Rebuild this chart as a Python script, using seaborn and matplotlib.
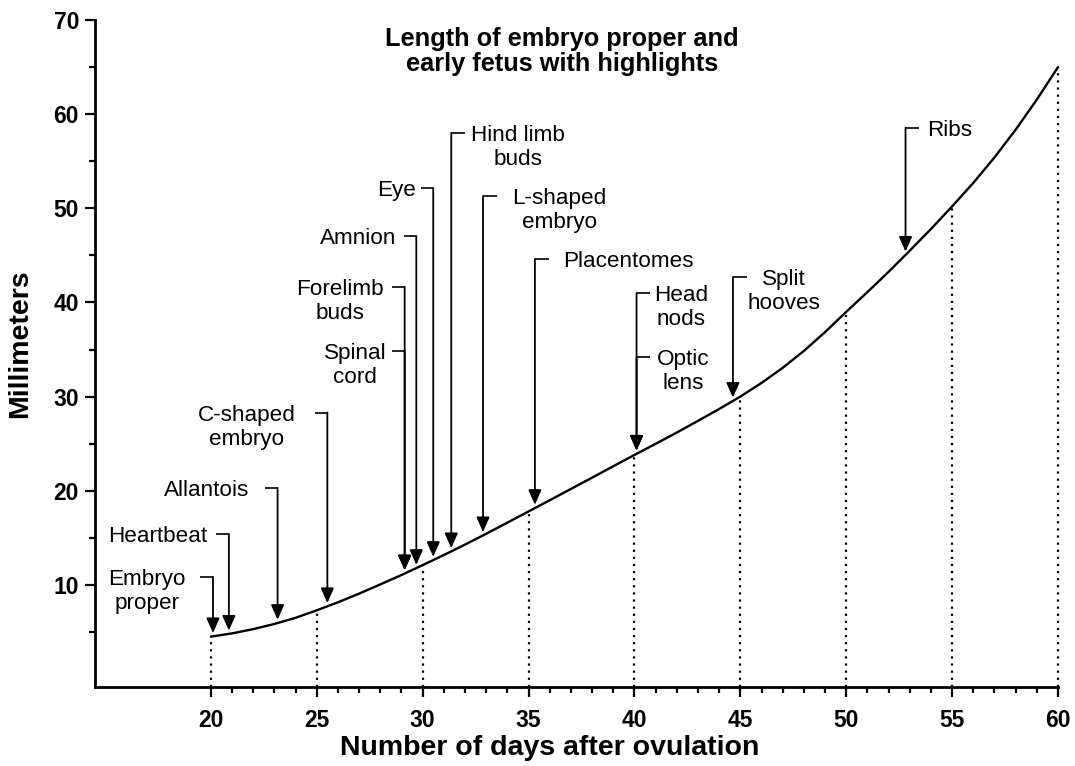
import numpy as np
import pandas as pd
import seaborn as sns
import matplotlib.pyplot as plt

# Length of the embryo / early fetus
days = list(range(20, 61))
length_mm = [4.5, 4.85, 5.3, 5.85, 6.5, 7.3, 8.15, 9.07, 10.05, 11.05,
             12.1, 13.17, 14.28, 15.43, 16.61, 17.8, 18.99, 20.19, 21.39, 22.6,
             23.8, 24.98, 26.18, 27.42, 28.68, 30.0, 31.45, 33.05, 34.85, 36.85,
             39.0, 41.1, 43.25, 45.5, 47.8, 50.2, 52.7, 55.4, 58.35, 61.55, 65.0]

# Highlights and the day each arrow points at
events = ['Embryo\nproper', 'Heartbeat', 'Allantois', 'C-shaped\nembryo', 'Forelimb\nbuds',
          'Spinal\ncord', 'Amnion', 'Eye', 'Hind limb\nbuds', 'L-shaped\nembryo',
          'Placentomes', 'Head\nnods', 'Optic\nlens', 'Split\nhooves', 'Ribs']
event_days = [20.1, 20.85, 23.15, 25.5, 29.15, 29.15, 29.7, 30.5, 31.35, 32.85,
              35.3, 40.1, 40.1, 44.65, 52.8]

# Where the labels sit: text centre (days), leader height (mm), side of the leader
label_x = [17.0, 17.5, 19.8, 21.7, 26.1, 26.8, 26.95, 28.75, 34.5, 36.45, 39.7, 42.2, 42.3, 47.05, 54.9]
label_y = [10.85, 15.4, 20.3, 28.3, 41.65, 34.85, 47.05, 52.15, 58.0, 51.3, 44.6, 41.0, 34.2, 42.7, 58.55]
side = ['L'] * 8 + ['R'] * 7

sns.set_style('ticks')
plt.rcParams['font.family'] = ['Liberation Sans', 'DejaVu Sans']
plt.rcParams['text.color'] = 'black'
plt.rcParams['axes.labelcolor'] = 'black'
plt.rcParams['xtick.color'] = 'black'
plt.rcParams['ytick.color'] = 'black'

df = pd.DataFrame({'day': days, 'mm': length_mm})

fig = plt.figure(figsize=(10.75, 7.66), dpi=100)
ax = fig.add_axes([0.0884, 0.1031, 0.8958, 0.8708])
ybot = -0.85

sns.lineplot(data=df, x='day', y='mm', ax=ax, color='black', lw=1.7, clip_on=False)

# Dotted drop lines every 5 days
five = df[df['day'] % 5 == 0]
ax.vlines(five['day'], ybot, five['mm'], colors='black', lw=1.6,
          linestyles=[(0, (1, 2.2))], clip_on=False)

# Highlight leaders with arrows
fs = 16.2
for name, d, lx, ly, s in zip(events, event_days, label_x, label_y, side):
    tip = np.interp(d, days, length_mm) + 0.35
    stub = [d - 0.6, d] if s == 'L' else [d, d + 0.65]
    ax.plot(stub, [ly, ly], color='black', lw=1.2, solid_capstyle='butt')
    ax.annotate('', xy=(d, tip), xytext=(d, ly),
                arrowprops=dict(arrowstyle='-|>,head_length=0.45,head_width=0.2', mutation_scale=20,
                                lw=1.3, color='black', shrinkA=0, shrinkB=0))
    ax.annotate(name, xy=(lx, ly), xytext=(0, 0.358 * fs), textcoords='offset points',
                ha='center', va='top', multialignment='center', fontsize=fs, linespacing=1.2)

fig.text(0.5228, 1 - 27 / 766, 'Length of embryo proper and\nearly fetus with highlights',
         ha='center', va='top', fontsize=18.3, fontweight='bold', linespacing=1.05)

ax.set_xlim(14.53, 60)
ax.set_ylim(ybot, 70)
ax.set_xticks(range(20, 61, 5))
ax.set_xticks(range(20, 61), minor=True)
ax.set_yticks(range(10, 71, 10))
ax.set_yticks(range(5, 70, 10), minor=True)
ax.tick_params(which='major', length=7.5, width=1.6, colors='black')
ax.tick_params(which='minor', length=4, width=1.6, colors='black')
ax.tick_params(axis='x', which='major', pad=8)
ax.tick_params(axis='y', which='major', pad=4)
for lab in ax.get_xticklabels() + ax.get_yticklabels():
    lab.set_fontsize(16.5)
    lab.set_fontweight('bold')

sns.despine(ax=ax)
for sp in ['left', 'bottom']:
    ax.spines[sp].set_linewidth(2)
    ax.spines[sp].set_color('black')

ax.set_xlabel('Number of days after ovulation', fontsize=20.5, fontweight='bold')
ax.set_ylabel('Millimeters', fontsize=20.5, fontweight='bold')
ax.xaxis.set_label_coords(0.4725, -0.0725)
ax.yaxis.set_label_coords(-0.0644, 0.515)

fig.savefig('out.png', dpi=100)
